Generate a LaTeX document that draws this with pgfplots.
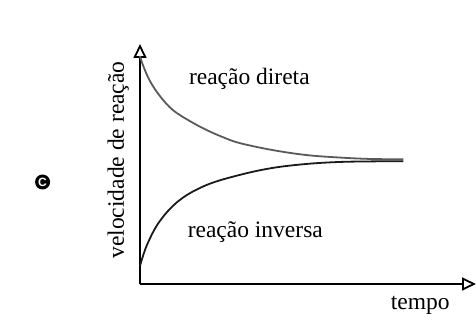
\documentclass[border=0pt]{standalone}
\usepackage{fontspec}
\setmainfont{Liberation Serif}
\newfontfamily\sansbf{Liberation Sans}
\usepackage{pgfplots}
\pgfplotsset{compat=1.18}
\usetikzlibrary{arrows.meta}
\definecolor{diretagray}{HTML}{5A5A5A}
\definecolor{inversablk}{HTML}{1A1A1A}
\newcommand{\bigtxt}{\fontsize{23.5}{27}\selectfont}

\begin{document}
\begin{tikzpicture}
\path[use as bounding box] (-140pt,-36pt) rectangle (336pt,284pt);
\begin{axis}[
  scale only axis,
  width=336pt,height=240pt,
  xmin=0,xmax=338,ymin=0,ymax=240,
  axis lines=left,
  axis line style={line width=2.2pt,-{Triangle[open,length=14pt,width=13pt,line width=1.8pt]}},
  xtick=\empty,ytick=\empty,
  clip=false
]
% reação direta (gray, decreasing)
\addplot[diretagray,line width=1.8pt,smooth,tension=0.6] coordinates
  {(0,228)(3.3,218)(10,203)(20,188)(33,174)(50,163)(67,154)(83,147)(100,141)(133,134)(167,129)(200,126.5)(233,125)(265,124.8)};
% reação inversa (black, increasing)
\addplot[inversablk,line width=1.8pt,smooth,tension=0.6] coordinates
  {(0,18)(7,39)(20,63)(40,84)(67,99)(100,109)(133,116)(167,120)(200,122)(233,122.6)(265,122.8)};
\node[font=\bigtxt] at (axis cs:110,205) {reação direta};
\node[font=\bigtxt] at (axis cs:116,52) {reação inversa};
\node[font=\bigtxt] at (axis cs:282,-21) {tempo};
\node[font=\bigtxt,rotate=90] at (axis cs:-22,124) {velocidade de reação};
\node[circle,fill=black,inner sep=0pt,minimum size=15pt,text=white,
      font=\sansbf\bfseries\fontsize{12}{12}\selectfont] at (axis cs:-98,102) {C};
\end{axis}
\end{tikzpicture}
\end{document}
